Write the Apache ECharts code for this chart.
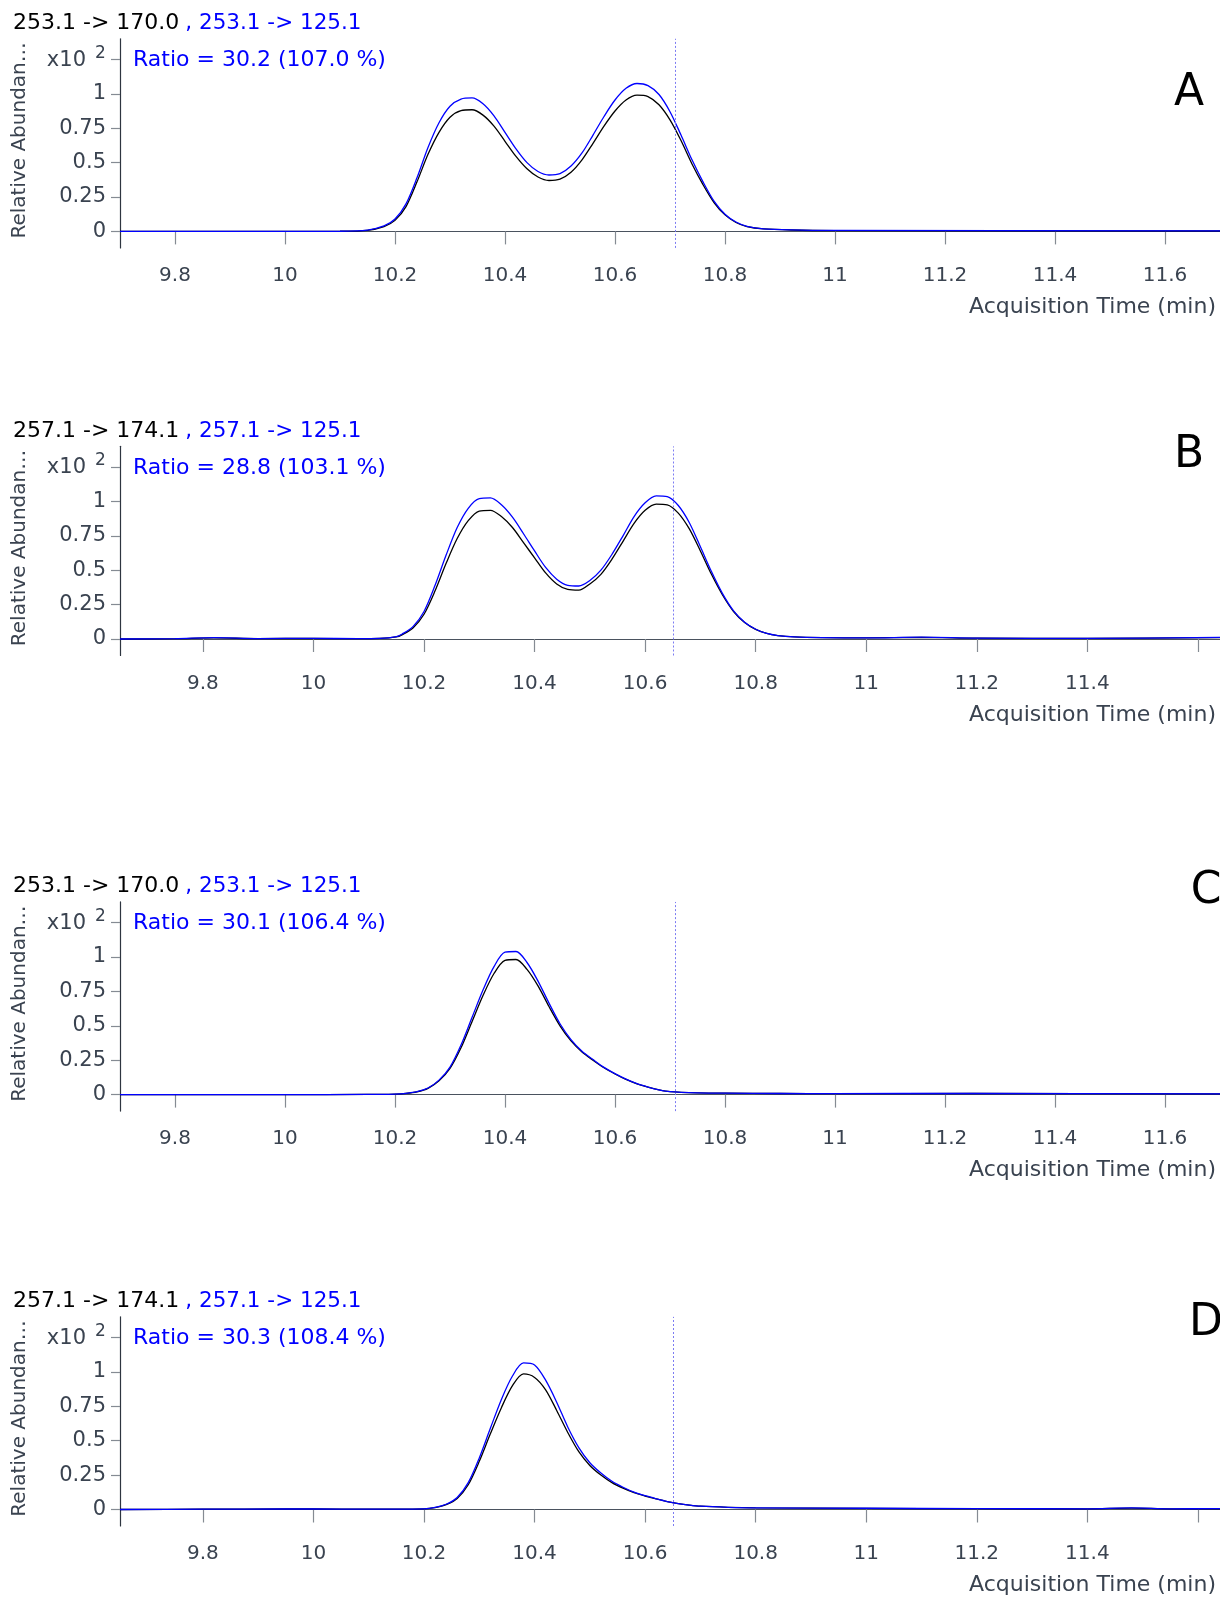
<!DOCTYPE html>
<html>
<head>
<meta charset="utf-8">
<style>
  html, body { margin: 0; padding: 0; background: #fff; }
  #chart { width: 1220px; height: 1598px; }
</style>
<script src="https://cdn.jsdelivr.net/npm/echarts@6/dist/echarts.min.js"></script>
</head>
<body>
<div id="chart"></div>
<script>
// 时间轴数据（min）与两条离子通道的相对丰度（x10^2）

// A
var timeA = [9.70, 10.00, 10.10, 10.15, 10.18,
  10.20, 10.22, 10.24, 10.26, 10.28, 10.30, 10.32, 10.34, 10.36, 10.38,
  10.40, 10.42, 10.44, 10.46, 10.48, 10.50, 10.52, 10.54, 10.56, 10.58,
  10.60, 10.62, 10.64, 10.66, 10.68, 10.70, 10.72, 10.74, 10.76, 10.78,
  10.80, 10.82, 10.84, 10.87, 10.92, 11.00, 11.70];
var blackA = [0, 0, 0.001, 0.008, 0.035,
  0.08, 0.18, 0.36, 0.56, 0.72, 0.83, 0.878, 0.884, 0.845, 0.765,
  0.655, 0.545, 0.455, 0.395, 0.37, 0.38, 0.43, 0.52, 0.64, 0.765,
  0.875, 0.955, 0.99, 0.98, 0.92, 0.81, 0.66, 0.49, 0.34, 0.21,
  0.12, 0.065, 0.035, 0.018, 0.01, 0.006, 0.003];
var blueA = [0, 0, 0.001, 0.01, 0.04,
  0.09, 0.2, 0.39, 0.61, 0.79, 0.91, 0.962, 0.97, 0.928, 0.84,
  0.72, 0.6, 0.5, 0.435, 0.41, 0.42, 0.475, 0.57, 0.7, 0.835,
  0.955, 1.04, 1.075, 1.06, 0.995, 0.87, 0.7, 0.52, 0.36, 0.22,
  0.125, 0.068, 0.037, 0.019, 0.011, 0.007, 0.004];

// B
var timeB = [9.65, 9.75, 9.82, 9.90, 10.00, 10.08, 10.12, 10.15,
  10.16, 10.18, 10.20, 10.22, 10.24, 10.26, 10.28, 10.30, 10.32, 10.34,
  10.36, 10.38, 10.40, 10.42, 10.44, 10.46, 10.48, 10.50, 10.52, 10.54,
  10.56, 10.58, 10.60, 10.62, 10.64, 10.66, 10.68, 10.70, 10.72, 10.74,
  10.76, 10.78, 10.80, 10.82, 10.84,
  10.87, 10.92, 11.00, 11.10, 11.20, 11.40, 11.64];
var blackB = [0, 0.002, 0.008, 0.003, 0.004, 0.002, 0.004, 0.015,
  0.03, 0.08, 0.18, 0.35, 0.55, 0.73, 0.86, 0.93, 0.935, 0.89,
  0.81, 0.70, 0.59, 0.48, 0.40, 0.36, 0.355, 0.40, 0.47, 0.58,
  0.71, 0.84, 0.935, 0.98, 0.975, 0.915, 0.80, 0.64, 0.47, 0.32,
  0.20, 0.12, 0.07, 0.04, 0.025,
  0.015, 0.01, 0.008, 0.012, 0.006, 0.004, 0.01];
var blueB = [0, 0.002, 0.01, 0.003, 0.005, 0.002, 0.004, 0.017,
  0.035, 0.09, 0.2, 0.39, 0.61, 0.81, 0.95, 1.02, 1.025, 0.975,
  0.885, 0.765, 0.64, 0.52, 0.435, 0.39, 0.385, 0.425, 0.5, 0.615,
  0.75, 0.89, 0.99, 1.04, 1.035, 0.97, 0.845, 0.67, 0.49, 0.33,
  0.205, 0.122, 0.071, 0.04, 0.025,
  0.015, 0.01, 0.008, 0.013, 0.006, 0.004, 0.012];

// C
var timeC = [9.70, 10.00, 10.15, 10.20,
  10.22, 10.24, 10.26, 10.28, 10.30, 10.32, 10.34, 10.36, 10.38, 10.40,
  10.42, 10.44, 10.46, 10.48, 10.50, 10.52, 10.54, 10.56, 10.58, 10.60,
  10.62, 10.64, 10.66, 10.68, 10.70,
  10.75, 10.80, 10.90, 11.00, 11.25, 11.70];
var blackC = [0, 0, 0.001, 0.004,
  0.009, 0.02, 0.045, 0.1, 0.19, 0.34, 0.53, 0.72, 0.88, 0.975,
  0.982, 0.91, 0.79, 0.64, 0.5, 0.39, 0.31, 0.25, 0.195, 0.15,
  0.11, 0.078, 0.054, 0.035, 0.022,
  0.013, 0.01, 0.008, 0.007, 0.008, 0.005];
var blueC = [0, 0, 0.001, 0.004,
  0.009, 0.021, 0.048, 0.105, 0.2, 0.36, 0.56, 0.76, 0.93, 1.035,
  1.04, 0.96, 0.825, 0.665, 0.515, 0.4, 0.315, 0.255, 0.198, 0.152,
  0.112, 0.079, 0.055, 0.035, 0.022,
  0.013, 0.01, 0.008, 0.007, 0.009, 0.005];

// D
var timeD = [9.65, 9.80, 9.95, 10.05, 10.15, 10.20,
  10.22, 10.24, 10.26, 10.28, 10.30, 10.32, 10.34, 10.36, 10.38, 10.40,
  10.42, 10.44, 10.46, 10.48, 10.50, 10.52, 10.54, 10.56, 10.58, 10.60,
  10.62, 10.64, 10.66, 10.68, 10.70,
  10.75, 10.80, 11.00, 11.20, 11.40, 11.48, 11.55, 11.64];
var blackD = [0, 0.002, 0.004, 0.003, 0.003, 0.005,
  0.014, 0.035, 0.08, 0.18, 0.35, 0.55, 0.74, 0.9, 0.985, 0.96,
  0.87, 0.72, 0.56, 0.42, 0.32, 0.25, 0.195, 0.155, 0.122, 0.098,
  0.077, 0.058, 0.043, 0.032, 0.024,
  0.016, 0.012, 0.008, 0.006, 0.005, 0.01, 0.005, 0.005];
var blueD = [0, 0.002, 0.004, 0.003, 0.003, 0.005,
  0.015, 0.038, 0.087, 0.195, 0.375, 0.59, 0.8, 0.97, 1.065, 1.05,
  0.94, 0.78, 0.6, 0.45, 0.34, 0.265, 0.205, 0.162, 0.126, 0.1,
  0.078, 0.058, 0.043, 0.032, 0.024,
  0.016, 0.012, 0.009, 0.006, 0.005, 0.012, 0.005, 0.006];

// 文本
var quantTitles = ['253.1 -> 170.0', '257.1 -> 174.1', '253.1 -> 170.0', '257.1 -> 174.1'];
var qualTitles = [', 253.1 -> 125.1', ', 257.1 -> 125.1', ', 253.1 -> 125.1', ', 257.1 -> 125.1'];
var ratioTexts = ['Ratio = 30.2 (107.0 %)', 'Ratio = 28.8 (103.1 %)', 'Ratio = 30.1 (106.4 %)', 'Ratio = 30.3 (108.4 %)'];
var panelLetters = ['A', 'B', 'C', 'D'];
var markerTimes = [10.706, 10.65, 10.706, 10.65];
var xMins = [9.70, 9.65, 9.70, 9.65];
var xMaxs = [11.70, 11.64, 11.70, 11.64];
var xLabelValues = [
  [9.8, 10, 10.2, 10.4, 10.6, 10.8, 11, 11.2, 11.4, 11.6],
  [9.8, 10, 10.2, 10.4, 10.6, 10.8, 11, 11.2, 11.4],
  [9.8, 10, 10.2, 10.4, 10.6, 10.8, 11, 11.2, 11.4, 11.6],
  [9.8, 10, 10.2, 10.4, 10.6, 10.8, 11, 11.2, 11.4]
];
var xTickValues = [9.8, 10, 10.2, 10.4, 10.6, 10.8, 11, 11.2, 11.4, 11.6];
var yLabelValues = [0, 0.25, 0.5, 0.75, 1];
var yTickValues = [0, 0.25, 0.5, 0.75, 1, 1.25];

var panels = [
  { t: timeA, k: blackA, b: blueA },
  { t: timeB, k: blackB, b: blueB },
  { t: timeC, k: blackC, b: blueC },
  { t: timeD, k: blackD, b: blueD }
];

// 布局（像素）
var zeroY = [231.4, 639, 1094.6, 1509.5];
var letterPos = [[1189, 94], [1189, 456], [1206, 892], [1206, 1324]];
var PX = 137.6; // 每单位丰度像素
var Y_MIN = -0.12, Y_MAX = 1.4;

var FONT = 'DejaVu Sans';
var BLUE = '#0000ff';
var LABEL = '#3a4350';

function pair(t, v) {
  return t.map(function (x, i) { return [x, v[i]]; });
}

var grids = [], xAxes = [], yAxes = [], series = [], graphics = [];

panels.forEach(function (p, i) {
  var y0 = zeroY[i];
  var top = y0 - Y_MAX * PX;
  grids.push({ left: 120, right: 0, top: top, height: (Y_MAX - Y_MIN) * PX });

  xAxes.push({
    gridIndex: i, type: 'value', min: xMins[i], max: xMaxs[i], offset: 2,
    axisLine: { lineStyle: { color: '#4a525e', width: 1.2 } },
    axisTick: { customValues: xTickValues, length: 13, lineStyle: { color: '#858b93', width: 1.2 } },
    axisLabel: { customValues: xLabelValues[i], margin: 16, fontSize: 20, color: LABEL, fontFamily: FONT },
    splitLine: { show: false }
  });
  yAxes.push({
    gridIndex: i, type: 'value', min: Y_MIN, max: Y_MAX,
    axisLine: { show: true, lineStyle: { color: '#2e3540', width: 1.2 } },
    axisTick: { show: true, customValues: yTickValues, length: 9, lineStyle: { color: '#858b93', width: 1.2 } },
    axisLabel: { customValues: yLabelValues, margin: 14, fontSize: 21, color: LABEL, fontFamily: FONT },
    splitLine: { show: false }
  });

  series.push({
    type: 'line', xAxisIndex: i, yAxisIndex: i, data: pair(p.t, p.k),
    showSymbol: false, smooth: 0.3, silent: true,
    lineStyle: { color: '#000', width: 1.3 }
  });
  series.push({
    type: 'line', xAxisIndex: i, yAxisIndex: i, data: pair(p.t, p.b),
    showSymbol: false, smooth: 0.3, silent: true,
    lineStyle: { color: BLUE, width: 1.3 },
    markLine: {
      silent: true, symbol: ['none', 'none'], label: { show: false },
      lineStyle: { type: [2, 2], color: '#7c7cf2', width: 1 },
      data: [{ xAxis: markerTimes[i] }]
    }
  });

  graphics.push({
    type: 'text', x: 13, y: y0 - 208,
    style: {
      text: '{k|' + quantTitles[i] + '}{b|' + qualTitles[i] + '}',
      verticalAlign: 'middle', font: '22px "' + FONT + '"',
      rich: {
        k: { fill: '#000', fontSize: 22, fontFamily: FONT, padding: [0, 6, 0, 0] },
        b: { fill: BLUE, fontSize: 21.5, fontFamily: FONT }
      }
    }
  });
  graphics.push({
    type: 'text', x: 133, y: y0 - 171,
    style: { text: ratioTexts[i], fill: BLUE, fontSize: 22, fontFamily: FONT, verticalAlign: 'middle' }
  });
  graphics.push({
    type: 'text', x: 86, y: y0 - 171,
    style: { text: 'x10', fill: LABEL, fontSize: 21, fontFamily: FONT, align: 'right', verticalAlign: 'middle' }
  });
  graphics.push({
    type: 'text', x: 95, y: y0 - 178,
    style: { text: '2', fill: LABEL, fontSize: 17, fontFamily: FONT, verticalAlign: 'middle' }
  });
  graphics.push({
    type: 'text', x: 20, y: y0 - 91, rotation: Math.PI / 2,
    style: { text: 'Relative Abundan…', fill: LABEL, fontSize: 20, fontFamily: FONT, align: 'center', verticalAlign: 'middle' }
  });
  graphics.push({
    type: 'text', x: 1216, y: y0 + 76,
    style: { text: 'Acquisition Time (min)', fill: LABEL, fontSize: 22, fontFamily: FONT, align: 'right', verticalAlign: 'middle' }
  });
  graphics.push({
    type: 'text', x: letterPos[i][0], y: letterPos[i][1],
    style: { text: panelLetters[i], fill: '#000', fontSize: 44, fontFamily: FONT, align: 'center', verticalAlign: 'middle' }
  });
});

var chart = echarts.init(document.getElementById('chart'));
chart.setOption({
  animation: false,
  backgroundColor: '#fff',
  textStyle: { fontFamily: FONT },
  grid: grids,
  xAxis: xAxes,
  yAxis: yAxes,
  series: series,
  graphic: graphics
});
</script>
</body>
</html>
